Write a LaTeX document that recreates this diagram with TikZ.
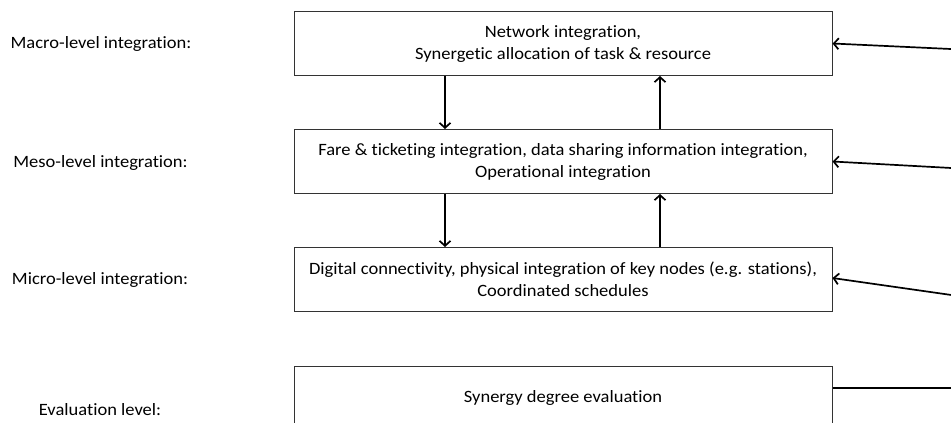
\documentclass[tikz,border=0pt]{standalone}
\usepackage{fontspec}
\setmainfont{Carlito}[Ligatures={NoCommon,NoRare,NoContextual},FakeStretch=1.07]
\usetikzlibrary{arrows.meta}
\begin{document}
\begin{tikzpicture}[x=1pt,y=-1pt,
  lvlbox/.style={draw=black!80, line width=1pt, minimum width=538pt, minimum height=64pt,
    inner sep=0pt, align=center, font=\fontsize{17.3}{22}\selectfont},
  lbl/.style={font=\fontsize{17.3}{22}\selectfont, inner sep=0pt},
  arr/.style={line width=1.7pt, -{Straight Barb[length=5pt,width=11pt]}},
  plainline/.style={line width=1.7pt}]
\useasboundingbox (0,0) rectangle (951,423);
\clip (0,0) rectangle (951,423);

\node[lvlbox] (macro) at (563,43.5) {Network integration,\\Synergetic allocation of task \& resource};
\node[lvlbox] (meso) at (563,161.5) {Fare \& ticketing integration, data sharing information integration,\\Operational integration};
\node[lvlbox] (micro) at (563,279.5) {Digital connectivity, physical integration of key nodes (e.g. stations),\\Coordinated schedules};
\node[lvlbox] (eval) at (563,398) {Synergy degree evaluation};

\node[lbl] (lmacro) at (101,44) {Macro-level integration:};
\node[lbl] (lmeso) at (100.5,163) {Meso-level integration:};
\node[lbl] (lmicro) at (100,280) {Micro-level integration:};
\node[lbl] (leval) at (100,410) {Evaluation level:};

\draw[arr] ([xshift=-118pt]macro.south) -- ([xshift=-118pt]meso.north);
\draw[arr] ([xshift=97pt]meso.north) -- ([xshift=97pt]macro.south);
\draw[arr] ([xshift=-118pt]meso.south) -- ([xshift=-118pt]micro.north);
\draw[arr] ([xshift=97pt]micro.north) -- ([xshift=97pt]meso.south);

\coordinate (r1) at (955,49.2);
\coordinate (r2) at (955,168.2);
\coordinate (r3) at (955,295.5);
\coordinate (r4) at (955,388);
\draw[arr] (r1) -- (macro.east);
\draw[arr] (r2) -- (meso.east);
\draw[arr] (r3) -- ([yshift=1.5pt]micro.east);
\draw[plainline] (eval.east |- r4) -- (r4);
\end{tikzpicture}
\end{document}
